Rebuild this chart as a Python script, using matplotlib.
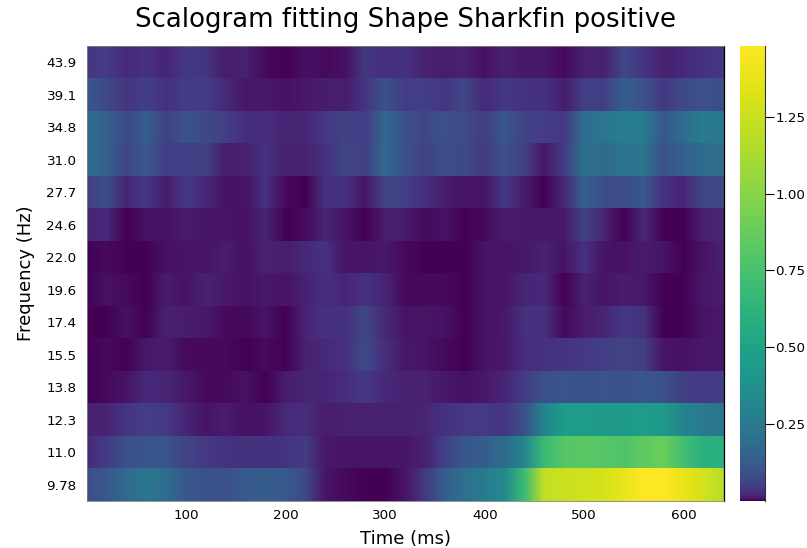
import numpy as np
import matplotlib
matplotlib.use("Agg")
import matplotlib.pyplot as plt
from matplotlib.colors import PowerNorm

# Time knots (ms), every 20 ms
time_ms = [0, 20, 40, 60, 80, 100, 120, 140, 160, 180, 200, 220, 240, 260, 280, 300, 320,
           340, 360, 380, 400, 420, 440, 460, 480, 500, 520, 540, 560, 580, 600, 620, 640]

freq_labels = ["9.78", "11.0", "12.3", "13.8", "15.5", "17.4", "19.6",
               "22.0", "24.6", "27.7", "31.0", "34.8", "39.1", "43.9"]

# Power per frequency
p_9_78 = [.08, .11, .18, .23, .19, .11, .09, .09, .12, .13, .12, .07, .005, .001, 0, 0, .004,
          .04, .13, .2, .25, .33, .68, 1.22, 1.25, 1.27, 1.3, 1.38, 1.48, 1.48, 1.38, 1.3, 1.17]
p_11_0 = [.02, .045, .09, .10, .10, .06, .04, .032, .032, .032, .032, .045, .006, .005, .005, .005, .005,
          .012, .055, .105, .13, .18, .3, .68, .8, .82, .8, .78, .84, .88, .72, .6, .6]
p_12_3 = [.011, .015, .035, .052, .04, .016, .004, .009, .003, .004, .02, .025, .009, .011, .011, .011, .011,
          .016, .03, .04, .04, .035, .09, .3, .44, .45, .43, .43, .45, .43, .3, .25, .22]
p_13_8 = [0, .001, .004, .02, .016, .006, .001, .001, .003, 0, .009, .016, .016, .025, .04, .02, .012,
          .012, .006, .003, .006, .016, .046, .09, .1, .09, .1, .09, .11, .09, .052, .04, .052]
p_15_5 = [0, .001, 0, .006, .009, .001, .001, .001, 0, .001, 0, .012, .02, .03, .072, .025, .006,
          .004, .001, 0, .004, .006, .025, .03, .035, .04, .052, .058, .052, .004, .003, .006, .006]
p_17_4 = [0, 0, .003, 0, .012, .009, .006, .001, .001, .004, 0, .016, .03, .03, .065, .02, .004,
          .004, .003, 0, .003, .006, .03, .03, .001, .009, .016, .04, .03, 0, 0, .004, .006]
p_19_6 = [0, .003, .001, 0, .009, .004, .012, .006, .003, .006, .004, .012, .025, .016, .03, .016, .001,
          .001, .001, 0, .004, .004, .016, .02, 0, .012, .004, .009, .006, 0, 0, .006, .009]
p_22_0 = [0, .001, 0, 0, .003, .004, .004, .009, .003, .012, .009, .02, .03, .004, .004, .006, .001,
          0, 0, 0, .004, .004, .006, .012, .004, .03, .004, .003, .009, .004, 0, .004, .012]
p_24_6 = [.016, .02, 0, .003, .003, .009, .004, .004, .003, .016, 0, .001, .016, .004, 0, .009, .009,
          .001, .003, 0, .001, .009, .006, .006, .006, .058, .016, 0, .02, 0, 0, .012, .016]
p_27_7 = [.052, .083, .016, .04, .009, .04, .02, .003, .004, .03, .001, 0, .03, .03, .004, .065, .052,
          .025, .009, .004, .004, .04, .009, 0, .02, .14, .08, .08, .11, .03, .016, .065, .072]
p_31_0 = [.19, .14, .065, .11, .052, .052, .058, .009, .012, .03, .012, .012, .03, .065, .052, .17, .09,
          .058, .08, .072, .04, .09, .052, .006, .046, .21, .17, .22, .22, .09, .14, .19, .19]
p_34_8 = [.19, .14, .072, .13, .058, .097, .072, .052, .025, .025, .016, .016, .04, .058, .046, .16, .09,
          .065, .09, .072, .046, .11, .058, .046, .04, .19, .23, .27, .25, .11, .19, .26, .22]
p_39_1 = [.11, .072, .035, .052, .03, .046, .046, .02, .006, .006, .003, .006, .009, .009, .035, .09, .046,
          .052, .035, .065, .02, .04, .03, .03, .009, .052, .052, .13, .09, .04, .072, .09, .083]
p_43_9 = [.035, .046, .02, .03, .016, .04, .035, .009, .012, .001, 0, .003, .001, .003, .04, .025, .03,
          .012, .009, .012, .003, .012, .006, .006, .001, .012, .012, .065, .035, .012, .02, .03, .04]

rows = [p_9_78, p_11_0, p_12_3, p_13_8, p_15_5, p_17_4, p_19_6,
        p_22_0, p_24_6, p_27_7, p_31_0, p_34_8, p_39_1, p_43_9]

cbar_ticks = [0.25, 0.5, 0.75, 1.0, 1.25]
vmax = 1.48
x_range = (0.5, 640.5)

W, H = 807, 548
plt.rcParams['font.family'] = 'DejaVu Sans'
fig = plt.figure(figsize=(W / 100, H / 100), dpi=100)

# colours follow a square root scale, the ticks are linear
norm = PowerNorm(gamma=0.5, vmin=0, vmax=vmax)

ax = fig.add_axes([87 / W, 1 - 501 / H, (724 - 87) / W, (501 - 46) / H])
half = (time_ms[1] - time_ms[0]) / 2
for i, row in enumerate(rows):
    ax.imshow([row], cmap='viridis', norm=norm, aspect='auto', interpolation='bilinear',
              interpolation_stage='rgba',
              extent=[time_ms[0] - half, time_ms[-1] + half, i, i + 1], origin='lower')
ax.set_xlim(*x_range)
ax.set_ylim(0, len(rows))
ax.set_yticks(np.arange(len(rows)) + 0.5)
ax.set_yticklabels(freq_labels)
ax.set_xticks([100, 200, 300, 400, 500, 600])
ax.tick_params(length=0, labelsize=9.7)
ax.tick_params(axis='y', pad=7.5)
ax.tick_params(axis='x', pad=6)
ax.set_xlabel('Time (ms)', fontsize=13, labelpad=5.5)
ax.set_ylabel('Frequency (Hz)', fontsize=13, labelpad=8)
ax.set_title('Scalogram fitting Shape Sharkfin positive', fontsize=18.7, pad=14)
for side in ['top', 'bottom', 'left']:
    ax.spines[side].set_color('#808080')
    ax.spines[side].set_linewidth(0.6)
ax.spines['right'].set_color('black')
ax.spines['right'].set_linewidth(0.9)

# colour bar
cax = fig.add_axes([740 / W, 1 - 501 / H, 25 / W, (501 - 46) / H])
gradient = np.linspace(0, vmax, 256).reshape(-1, 1)
cax.imshow(gradient, cmap='viridis', norm=norm, aspect='auto', origin='lower',
           extent=[0, 1, 0, vmax])
cax.set_xticks([])
cax.yaxis.tick_right()
cax.set_yticks(cbar_ticks)
cax.set_yticklabels(['%.2f' % t for t in cbar_ticks])
cax.tick_params(axis='y', length=6.5, width=0.8, labelsize=9.7, pad=1)
for side in ['top', 'bottom', 'left']:
    cax.spines[side].set_visible(False)
cax.spines['right'].set_color('#333333')
cax.spines['right'].set_linewidth(0.8)

fig.savefig('out.png', dpi=100)
